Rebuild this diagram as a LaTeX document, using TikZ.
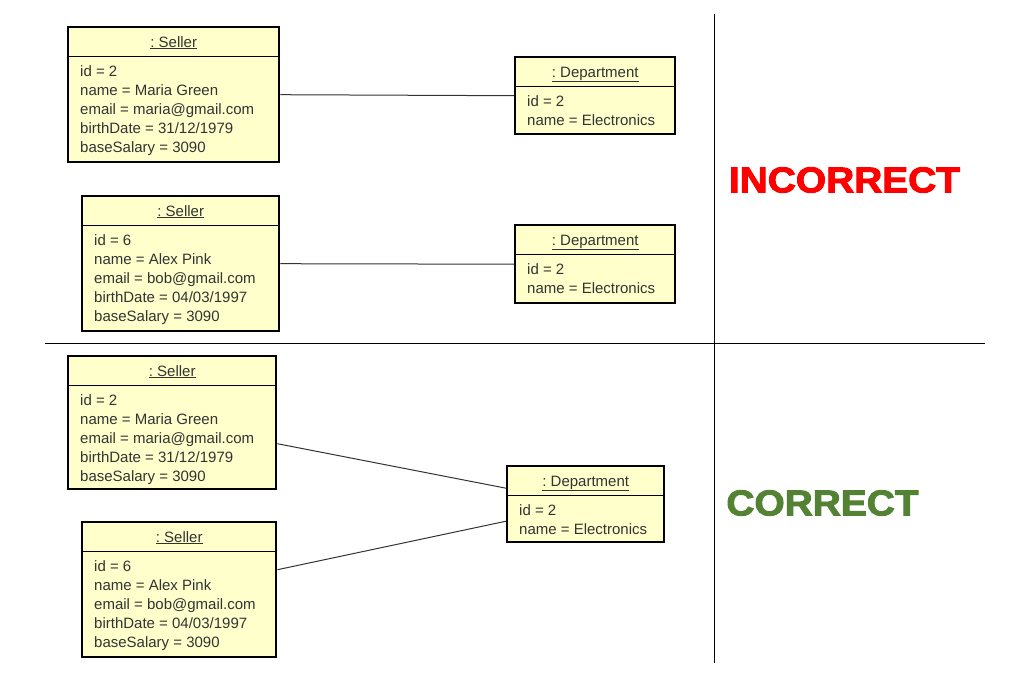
\documentclass[tikz,border=0pt]{standalone}
\usepackage{fontspec}
\setmainfont{Liberation Sans}
\newfontfamily\heavyfont[FakeBold=2.5]{Liberation Sans Bold}
\definecolor{objfill}{RGB}{255,255,204}
\definecolor{okgreen}{RGB}{84,130,53}
\frenchspacing
\newcommand\objbox[7]{%
  \node[objrect, minimum width=#4pt, minimum height=#5pt, anchor=north west] (#1) at (#2,-#3) {};
  \draw[objline] ([yshift=-30pt]#1.north west) -- ([yshift=-30pt]#1.north east);
  \node[objtext, anchor=base] (#1t) at ([yshift=-21pt]#1.north) {\underline{: #6}};
  \node[objtext, anchor=north west, align=left] (#1b) at ([xshift=13pt,yshift=-39pt]#1.north west) {#7};
}
\begin{document}
\begin{tikzpicture}[x=1pt,y=1pt,
  objrect/.style={draw=black, line width=2.4pt, fill=objfill, inner sep=0pt},
  objline/.style={draw=black, line width=1pt},
  objtext/.style={inner sep=0pt, font=\fontsize{15}{19}\selectfont, text=black!80},
  link/.style={draw=black!80, line width=1pt},
  divider/.style={draw=black, line width=0.9pt},
  verdict/.style={font=\fontsize{36}{40}\heavyfont, xscale=1.08}]
\useasboundingbox (0,0) rectangle (1018,-678);
\coordinate (vt) at (714,-14);
\coordinate (vb) at (714,-663);
\coordinate (hl) at (45,-343);
\coordinate (hr) at (985,-343);
\draw[divider] (vt) -- (vb);
\draw[divider] (hl) -- (hr);
% incorrect
\objbox{s1}{67}{26}{211}{135}{Seller}{id = 2\\name = Maria Green\\email = maria@gmail.com\\birthDate = 31/12/1979\\baseSalary = 3090}
\objbox{d1}{514}{56}{160}{77}{Department}{id = 2\\name = Electronics}
\objbox{s2}{81}{195}{197}{135}{Seller}{id = 6\\name = Alex Pink\\email = bob@gmail.com\\birthDate = 04/03/1997\\baseSalary = 3090}
\objbox{d2}{514}{224}{160}{78}{Department}{id = 2\\name = Electronics}
\draw[link] (s1.east) -- (d1.west);
\draw[link] (s2.east) -- (d2.west);
% correct
\objbox{s3}{67}{355}{208}{133}{Seller}{id = 2\\name = Maria Green\\email = maria@gmail.com\\birthDate = 31/12/1979\\baseSalary = 3090}
\objbox{s4}{81}{521}{194}{135}{Seller}{id = 6\\name = Alex Pink\\email = bob@gmail.com\\birthDate = 04/03/1997\\baseSalary = 3090}
\objbox{d3}{506}{465}{157}{76}{Department}{id = 2\\name = Electronics}
\draw[link] ([yshift=-21pt]s3.east) -- ([yshift=16pt]d3.west);
\draw[link] ([yshift=20pt]s4.east) -- ([yshift=-17pt]d3.west);
\node[verdict, text=red] (inc) at (844.5,-180) {INCORRECT};
\node[verdict, text=okgreen] (cor) at (822.5,-503) {CORRECT};
\end{tikzpicture}
\end{document}
